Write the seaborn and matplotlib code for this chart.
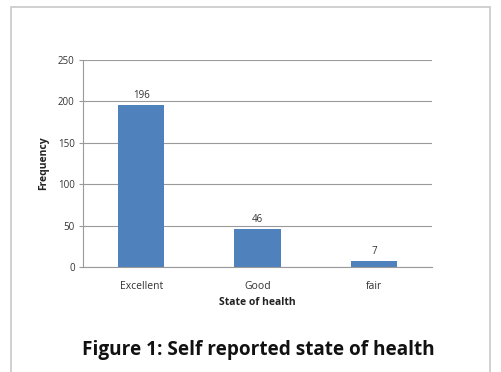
import matplotlib
matplotlib.use("Agg")
import matplotlib.pyplot as plt
import seaborn as sns
import pandas as pd
from matplotlib.patches import Rectangle

categories = ["Excellent", "Good", "fair"]
frequencies = [196, 46, 7]
y_ticks = [0, 50, 100, 150, 200, 250]

sns.set_theme(style="white")
plt.rcParams['font.family'] = ['Open Sans', 'DejaVu Sans']

df = pd.DataFrame({"cat": categories, "freq": frequencies})

fig = plt.figure(figsize=(5.01, 3.72), dpi=100)
fig.patch.set_facecolor("white")
W, H = 501, 372
ax = fig.add_axes([83 / W, 1 - 267 / H, (432 - 83) / W, (267 - 60) / H])

sns.barplot(data=df, x="cat", y="freq", color="#4F81BD", saturation=1, width=0.4,
            linewidth=0, ax=ax)
for p, v in zip(ax.patches, frequencies):
    ax.text(p.get_x() + p.get_width() / 2, v + 5, str(v), ha="center", va="bottom",
            fontsize=7, color="#333333")

ax.set_ylim(0, 250)
ax.set_yticks(y_ticks)
ax.set_xlim(-0.5, 2.5)
ax.yaxis.grid(True, color="#9a9a9a", linewidth=0.8)
ax.set_axisbelow(True)
for s in ["top", "right"]:
    ax.spines[s].set_visible(False)
ax.spines["left"].set_color("#9a9a9a")
ax.spines["bottom"].set_color("#9a9a9a")
ax.spines["left"].set_linewidth(0.8)
ax.spines["bottom"].set_linewidth(0.8)
ax.tick_params(axis="y", labelsize=7, colors="#333333", left=True, length=3, width=0.8, pad=3)
ax.tick_params(axis="y", color="#9a9a9a")
ax.tick_params(axis="x", labelsize=7.5, colors="#333333", bottom=False, pad=4)
ax.set_xlabel("State of health", fontsize=7.5, fontweight="bold", color="#222222", labelpad=4)
ax.set_ylabel("Frequency", fontsize=7.5, fontweight="bold", color="#222222", labelpad=6)

fig.text(258 / W, 1 - 350 / H, "Figure 1: Self reported state of health", ha="center",
         va="center", fontsize=13.7, fontweight="bold", color="#111111")

fig.patches.append(Rectangle((11 / W, -0.1), (490 - 11) / W, (1 - 7 / H) + 0.1,
                             transform=fig.transFigure, fill=False,
                             edgecolor="#c8c8c8", linewidth=1.2))

fig.savefig("out.png", dpi=100, facecolor="white")
